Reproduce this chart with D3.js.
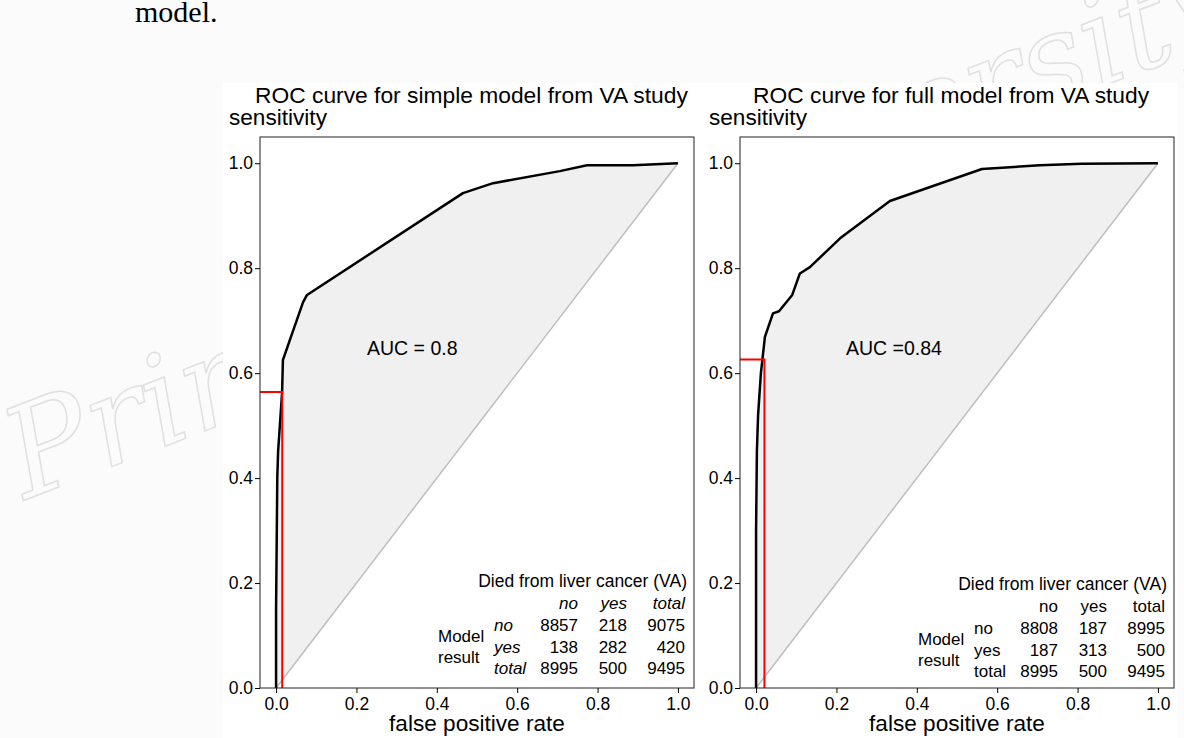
<!DOCTYPE html>
<meta charset="utf-8">
<style>
body { margin: 0; background: #fbfbfb; }
text { font-family: "Liberation Sans", Arial, sans-serif; fill: #000; }
.axis path { display: none; }
.axis line { stroke: #000; }
</style>
<body>
<script src="https://d3js.org/d3.v7.min.js"></script>
<script>

// tick values shared by both panels
var ticks = [0, 0.2, 0.4, 0.6, 0.8, 1.0];

// ROC curve of the simple model
var simpleFpr  = [0, 0.000, 0.003, 0.005, 0.015, 0.017, 0.042, 0.067, 0.077, 0.465, 0.540, 0.706, 0.774, 0.888, 1];
var simpleSens = [0, 0.150, 0.400, 0.450, 0.564, 0.625, 0.680, 0.735, 0.749, 0.943, 0.962, 0.985, 0.996, 0.996, 1];

// ROC curve of the full model
var fullFpr  = [0, 0.000, 0.002, 0.005, 0.012, 0.015, 0.022, 0.042, 0.057, 0.090, 0.109, 0.134, 0.209, 0.333, 0.562, 0.706, 0.810, 1];
var fullSens = [0, 0.300, 0.450, 0.520, 0.600, 0.621, 0.669, 0.714, 0.718, 0.749, 0.790, 0.802, 0.857, 0.928, 0.989, 0.996, 0.999, 1];

// 2x2 tables (rows: model result, cols: died from liver cancer)
var colLabels = ["no", "yes", "total"];
var rowLabels = ["no", "yes", "total"];
var simpleTable = [[8857, 218, 9075], [138, 282, 420], [8995, 500, 9495]];
var fullTable   = [[8808, 187, 8995], [187, 313, 500], [8995, 500, 9495]];

var svg = d3.select("body").append("svg")
    .attr("width", 1184)
    .attr("height", 738);

svg.append("rect").attr("width", 1184).attr("height", 738).attr("fill", "#fbfbfb");

// faint watermark behind the figure
svg.append("text")
    .attr("transform", "translate(25,500) rotate(-21)")
    .style("font-family", "DejaVu Serif")
    .style("font-style", "italic")
    .style("font-size", "125px")
    .style("fill", "none")
    .style("stroke", "#e0e0e0")
    .style("stroke-width", 1.5)
    .text("Princeton University");

// text above the figure
svg.append("text")
    .attr("x", 135).attr("y", 22)
    .style("font-family", "Liberation Serif")
    .style("font-size", "30px")
    .text("model.");

// the figure itself sits on white
svg.append("rect")
    .attr("x", 223).attr("y", 83)
    .attr("width", 954).attr("height", 655)
    .attr("fill", "#fff");

function drawPanel(p) {
  var x = d3.scaleLinear().domain([-0.04, 1.04]).range([p.left, p.right]);
  var y = d3.scaleLinear().domain([0, 1.05]).range([688, 137]);
  var g = svg.append("g");

  var pts = p.fpr.map(function(d, i) { return [d, p.sens[i]]; });
  var line = d3.line()
      .x(function(d) { return x(d[0]); })
      .y(function(d) { return y(d[1]); });

  // shaded area between curve and diagonal
  g.append("path")
      .attr("d", line(pts.concat([[1, 1], [0, 0]])) + "Z")
      .attr("fill", "#f0f0f0");

  g.append("path")
      .attr("d", line([[0, 0], [1, 1]]))
      .attr("stroke", "#bebebe")
      .attr("stroke-width", 1.5)
      .attr("fill", "none");

  g.append("path")
      .attr("d", line(pts))
      .attr("stroke", "#000")
      .attr("stroke-width", 2.5)
      .attr("stroke-linejoin", "round")
      .attr("fill", "none");

  // cut-off point of the model
  var t = p.table;
  var cutX = t[1][0] / t[2][0], cutY = t[1][1] / t[2][1];
  g.append("path")
      .attr("d", line([[-0.04, cutY], [cutX, cutY], [cutX, 0]]))
      .attr("stroke", "#ff0000")
      .attr("stroke-width", 2)
      .attr("fill", "none");

  g.append("rect")
      .attr("x", p.left).attr("y", 137)
      .attr("width", p.right - p.left).attr("height", 551)
      .attr("fill", "none")
      .attr("stroke", "#222")
      .attr("stroke-width", 1);

  g.append("g")
      .attr("class", "axis")
      .attr("transform", "translate(" + p.left + ",0)")
      .call(d3.axisLeft(y).tickValues(ticks).tickFormat(d3.format(".1f")).tickSize(5).tickPadding(2))
      .selectAll("text").style("font-size", "17.5px").style("font-family", "Liberation Sans");

  g.append("g")
      .attr("class", "axis")
      .attr("transform", "translate(0,688)")
      .call(d3.axisBottom(x).tickValues(ticks).tickFormat(d3.format(".1f")).tickSize(5).tickPadding(5))
      .selectAll("text").style("font-size", "17.5px").style("font-family", "Liberation Sans");

  g.append("text")
      .attr("x", p.titleX).attr("y", 103)
      .style("font-size", "22.8px")
      .text(p.title);

  g.append("text")
      .attr("x", p.left - 31).attr("y", 125)
      .style("font-size", "22.6px")
      .text("sensitivity");

  g.append("text")
      .attr("x", x(0.5)).attr("y", 731)
      .attr("text-anchor", "middle")
      .style("font-size", "22.6px")
      .text("false positive rate");

  g.append("text")
      .attr("x", p.aucX).attr("y", 355)
      .style("font-size", "19.5px")
      .text(p.auc);

  // contingency table
  var ty = p.tableY, style = p.italic ? "italic" : "normal";
  var colX = [p.right - 116, p.right - 67, p.right - 9];
  g.append("text")
      .attr("x", p.right - 7).attr("y", ty)
      .attr("text-anchor", "end")
      .style("font-size", "17.5px")
      .text("Died from liver cancer (VA)");

  g.selectAll(".colLab").data(colLabels).enter().append("text")
      .attr("x", function(d, i) { return colX[i]; })
      .attr("y", ty + 22)
      .attr("text-anchor", "end")
      .style("font-size", "17px").style("font-style", style)
      .text(function(d) { return d; });

  rowLabels.forEach(function(r, ri) {
    var ry = ty + 44 + ri * 21.5;
    g.append("text")
        .attr("x", p.right - 200).attr("y", ry)
        .style("font-size", "17px").style("font-style", style)
        .text(r);
    g.selectAll(".cell" + ri).data(t[ri]).enter().append("text")
        .attr("x", function(d, i) { return colX[i]; })
        .attr("y", ry)
        .attr("text-anchor", "end")
        .style("font-size", "17px")
        .text(function(d) { return d; });
  });

  g.append("text")
      .attr("x", p.right - 256).attr("y", ty + 55)
      .style("font-size", "17px")
      .text("Model");
  g.append("text")
      .attr("x", p.right - 256).attr("y", ty + 76)
      .style("font-size", "17px")
      .text("result");
}

drawPanel({
  left: 260, right: 694, titleX: 255,
  title: "ROC curve for simple model from VA study",
  fpr: simpleFpr, sens: simpleSens, table: simpleTable,
  auc: "AUC = 0.8", aucX: 367, tableY: 587, italic: true
});

drawPanel({
  left: 740, right: 1174, titleX: 753,
  title: "ROC curve for full model from VA study",
  fpr: fullFpr, sens: fullSens, table: fullTable,
  auc: "AUC =0.84", aucX: 846, tableY: 590, italic: false
});

</script>
</body>
